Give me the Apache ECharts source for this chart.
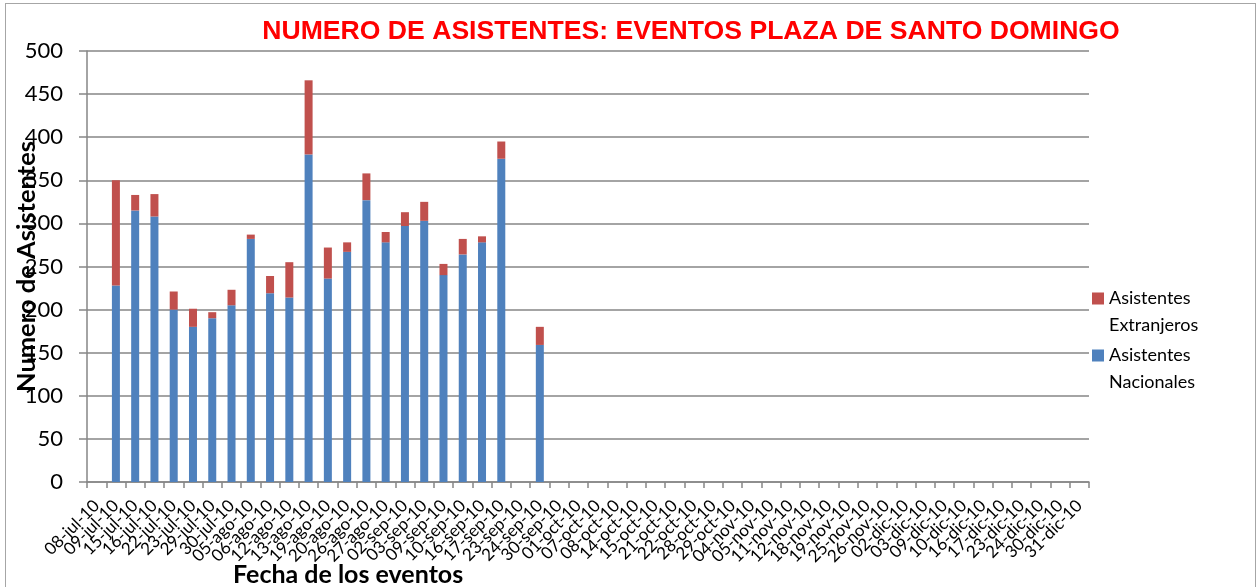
<!DOCTYPE html>
<html>
<head>
<meta charset="utf-8">
<script src="https://cdn.jsdelivr.net/npm/echarts@6/dist/echarts.min.js"></script>
<style>
  html, body { margin: 0; padding: 0; background: #fff; }
  #chart { box-sizing: border-box; border: 1px solid #a6a6a6; border-bottom: none; margin: 3px 0 0 5px; width: 1251px; height: 584px; }
</style>
</head>
<body>
<div id="chart"></div>
<script>
// fechas de los eventos
var fechas = ['08-jul-10', '09-jul-10', '15-jul-10', '16-jul-10', '22-jul-10', '23-jul-10', '29-jul-10', '30-jul-10',
  '05-ago-10', '06-ago-10', '12-ago-10', '13-ago-10', '19-ago-10', '20-ago-10', '26-ago-10', '27-ago-10',
  '02-sep-10', '03-sep-10', '09-sep-10', '10-sep-10', '16-sep-10', '17-sep-10', '23-sep-10', '24-sep-10',
  '30-sep-10', '01-oct-10', '07-oct-10', '08-oct-10', '14-oct-10', '15-oct-10', '21-oct-10', '22-oct-10',
  '28-oct-10', '29-oct-10', '04-nov-10', '05-nov-10', '11-nov-10', '12-nov-10', '18-nov-10', '19-nov-10',
  '25-nov-10', '26-nov-10', '02-dic-10', '03-dic-10', '09-dic-10', '10-dic-10', '16-dic-10', '17-dic-10',
  '23-dic-10', '24-dic-10', '30-dic-10', '31-dic-10'];

// asistentes nacionales (azul)
var nacionales = [null, 228, 315, 308, 200, 180, 190, 205, 282, 219, 214, 380, 236, 267, 327, 278,
  297, 303, 240, 264, 278, 375, null, 159];

// asistentes extranjeros (rojo)
var extranjeros = [null, 122, 18, 26, 21, 21, 7, 18, 5, 20, 41, 86, 36, 11, 31, 12,
  16, 22, 13, 18, 7, 20, null, 21];

var yTicks = [0, 50, 100, 150, 200, 250, 300, 350, 400, 450, 500];

var chart = echarts.init(document.getElementById('chart'));

// cuadro arriba, espacio vacio abajo -> el icono queda a la altura de la 1a linea
var iconoLeyenda = 'path://M0,0L12,0L12,12L0,12Z M0,39L0.01,39L0.01,39.01Z';

var option = {
  animation: false,
  title: [{
    text: 'NUMERO DE ASISTENTES: EVENTOS PLAZA DE SANTO DOMINGO',
    left: 680,
    top: 9,
    textAlign: 'center',
    textStyle: { color: '#ff0000', fontFamily: 'Liberation Sans', fontWeight: 'bold', fontSize: 26.6 }
  }, {
    text: 'Fecha de los eventos',
    left: 222,
    top: 553,
    textStyle: { color: '#000', fontFamily: 'Lato', fontWeight: 'bold', fontSize: 25 }
  }],
  legend: {
    orient: 'vertical',
    left: 1081,
    top: 276,
    itemWidth: 12,
    itemHeight: 39,
    itemGap: 3,
    icon: iconoLeyenda,
    data: ['Asistentes Extranjeros', 'Asistentes Nacionales'],
    formatter: function (name) { return name.replace(' ', '\n'); },
    textStyle: { fontFamily: 'Lato', fontSize: 18, color: '#000', lineHeight: 27 }
  },
  grid: { left: 81, right: 166, top: 47, bottom: 105, outerBoundsMode: 'none', containLabel: false },
  xAxis: {
    type: 'category',
    data: fechas,
    axisLine: { lineStyle: { color: '#868686', width: 1.5 } },
    axisTick: { show: true, length: 6, lineStyle: { color: '#868686', width: 1.5 } },
    axisLabel: { interval: 0, rotate: 45, fontFamily: 'Lato', fontSize: 17, color: '#000', margin: 21 }
  },
  yAxis: {
    type: 'value',
    min: 0,
    max: yTicks[yTicks.length - 1],
    interval: yTicks[1] - yTicks[0],
    name: 'Numero de Asistentes',
    nameLocation: 'middle',
    nameGap: 47,
    nameMoveOverlap: false,
    nameTextStyle: { fontFamily: 'Lato', fontWeight: 'bold', fontSize: 25.5, color: '#000' },
    axisLine: { show: true, lineStyle: { color: '#868686', width: 1.5 } },
    axisTick: { show: true, length: 8, lineStyle: { color: '#868686', width: 1.5 } },
    axisLabel: { fontFamily: 'Lato', fontSize: 22, color: '#000', margin: 24 },
    splitLine: { lineStyle: { color: '#868686', width: 1.5 } }
  },
  series: [{
    name: 'Asistentes Nacionales',
    type: 'bar',
    stack: 'total',
    barWidth: 8,
    itemStyle: { color: '#4f81bd' },
    data: nacionales
  }, {
    name: 'Asistentes Extranjeros',
    type: 'bar',
    stack: 'total',
    barWidth: 8,
    itemStyle: { color: '#c0504d' },
    data: extranjeros
  }]
};

chart.setOption(option);
</script>
</body>
</html>
